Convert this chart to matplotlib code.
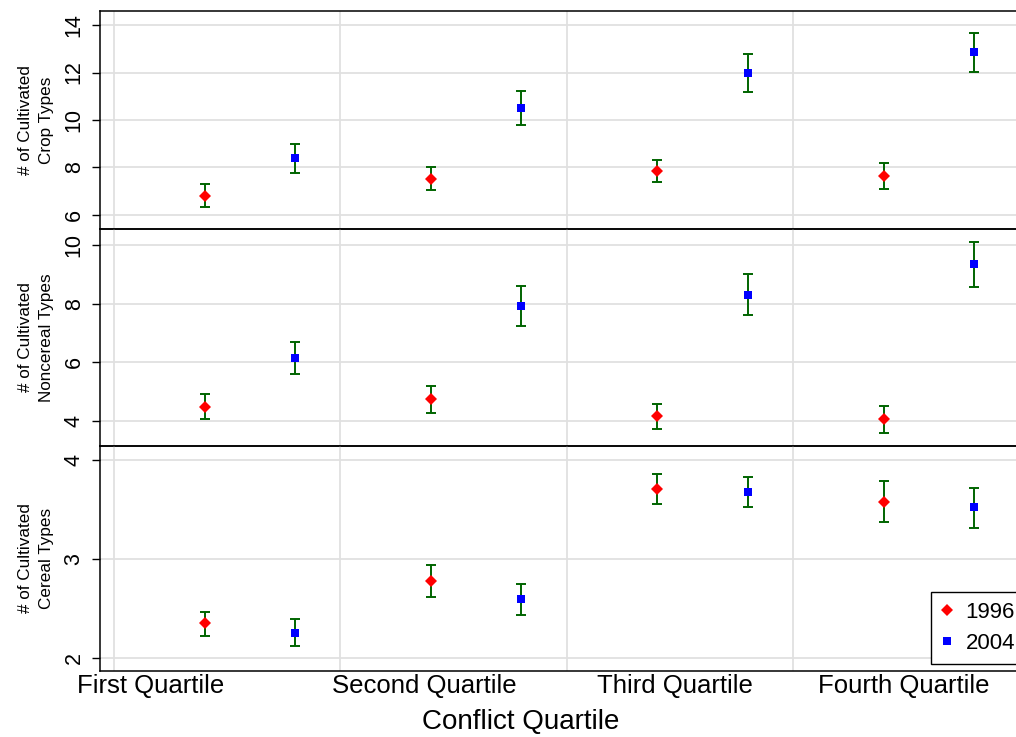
import numpy as np
import matplotlib
matplotlib.use("Agg")
import matplotlib.pyplot as plt
from matplotlib.lines import Line2D

plt.rcParams['font.family'] = ['Liberation Sans', 'DejaVu Sans']

quartiles = ['First Quartile', 'Second Quartile', 'Third Quartile', 'Fourth Quartile']
years = ['1996', '2004']

# crop types
crop_1996 = [6.81, 7.52, 7.87, 7.64]
crop_1996_lo = [6.35, 7.04, 7.38, 7.08]
crop_1996_hi = [7.29, 8.01, 8.32, 8.19]
crop_2004 = [8.39, 10.51, 11.99, 12.86]
crop_2004_lo = [7.78, 9.80, 11.19, 12.03]
crop_2004_hi = [8.99, 11.22, 12.77, 13.66]

# noncereal types
nonc_1996 = [4.47, 4.75, 4.16, 4.06]
nonc_1996_lo = [4.06, 4.28, 3.73, 3.60]
nonc_1996_hi = [4.90, 5.20, 4.58, 4.52]
nonc_2004 = [6.15, 7.92, 8.31, 9.34]
nonc_2004_lo = [5.59, 7.25, 7.60, 8.58]
nonc_2004_hi = [6.68, 8.59, 9.01, 10.09]

# cereal types
cer_1996 = [2.35, 2.78, 3.71, 3.58]
cer_1996_lo = [2.22, 2.62, 3.55, 3.37]
cer_1996_hi = [2.47, 2.94, 3.86, 3.79]
cer_2004 = [2.25, 2.60, 3.68, 3.52]
cer_2004_lo = [2.12, 2.44, 3.52, 3.31]
cer_2004_hi = [2.39, 2.75, 3.83, 3.72]

panels = [
    ('# of Cultivated\nCrop Types', crop_1996, crop_1996_lo, crop_1996_hi,
     crop_2004, crop_2004_lo, crop_2004_hi, [6, 8, 10, 12, 14], (5.41, 14.59)),
    ('# of Cultivated\nNoncereal Types', nonc_1996, nonc_1996_lo, nonc_1996_hi,
     nonc_2004, nonc_2004_lo, nonc_2004_hi, [4, 6, 8, 10], (3.14, 10.55)),
    ('# of Cultivated\nCereal Types', cer_1996, cer_1996_lo, cer_1996_hi,
     cer_2004, cer_2004_lo, cer_2004_hi, [2, 3, 4], (1.87, 4.14)),
]

W, H = 1016, 737
fig = plt.figure(figsize=(W / 100, H / 100), dpi=100)

q = np.arange(1, 5)
x96 = q + 0.4
x04 = q + 0.8
label_pos = [1.16, 2.37, 3.48, 4.49]
green = '#006400'
grid_c = '#e0e0e0'

# panel edges in pixels (top, bottom)
edges = [(11, 229), (229, 446), (446, 671)]
left_px = 100
right_frac = 1.0033

axes = []
for (top, bot), p in zip(edges, panels):
    ylabel, m96, lo96, hi96, m04, lo04, hi04, yt, ylim = p
    ax = fig.add_axes([left_px / W, 1 - bot / H, right_frac - left_px / W, (bot - top) / H])
    ax.patch.set_alpha(0)
    axes.append(ax)
    for v in q:
        ax.axvline(v, color=grid_c, lw=1.3, zorder=0)
    for v in yt:
        ax.axhline(v, color=grid_c, lw=1.3, zorder=0)

    for x, m, lo, hi, mk, col, ms in [(x96, m96, lo96, hi96, 'D', 'red', 6.3),
                                      (x04, m04, lo04, hi04, 's', 'blue', 6.3)]:
        m = np.array(m)
        err = [m - np.array(lo), np.array(hi) - m]
        ax.errorbar(x, m, yerr=err, fmt='none', ecolor=green, elinewidth=1.4,
                    capsize=3.8, capthick=1.4, zorder=2)
        ax.plot(x, m, linestyle='none', marker=mk, color=col, markersize=ms,
                markeredgewidth=0, zorder=3)

    ax.set_xlim(0.938, 5.0)
    ax.set_ylim(*ylim)
    ax.set_yticks(yt)
    ax.set_yticklabels([str(v) for v in yt], rotation=90, va='center', fontsize=15.5)
    ax.tick_params(axis='y', length=6, width=1, pad=5)
    ax.set_ylabel(ylabel, fontsize=12.3, linespacing=1.45)
    ax.yaxis.set_label_coords(-0.0505, 0.5)
    ax.spines['right'].set_visible(False)
    for s in ['left', 'top', 'bottom']:
        ax.spines[s].set_linewidth(1.1)
    ax.set_xticks(label_pos)
    ax.tick_params(axis='x', length=0, pad=2)
    ax.set_xticklabels([])

axes[2].set_xticklabels(quartiles, fontsize=18.5)

fig.text(521 / W, 1 - 722 / H, 'Conflict Quartile', fontsize=20, ha='center', va='center')

handles = [Line2D([], [], linestyle='none', marker='D', color='red', markersize=6.3, markeredgewidth=0),
           Line2D([], [], linestyle='none', marker='s', color='blue', markersize=6.3, markeredgewidth=0)]
leg = fig.legend(handles, years, loc='lower left', bbox_to_anchor=(931 / W, 1 - 664 / H),
                 fontsize=16, frameon=True, fancybox=False, framealpha=1, edgecolor='black',
                 handlelength=0.5, handletextpad=0.6, borderpad=0.45, labelspacing=0.45,
                 borderaxespad=0)
leg.get_frame().set_linewidth(1.0)

fig.savefig('out.png', dpi=100)
